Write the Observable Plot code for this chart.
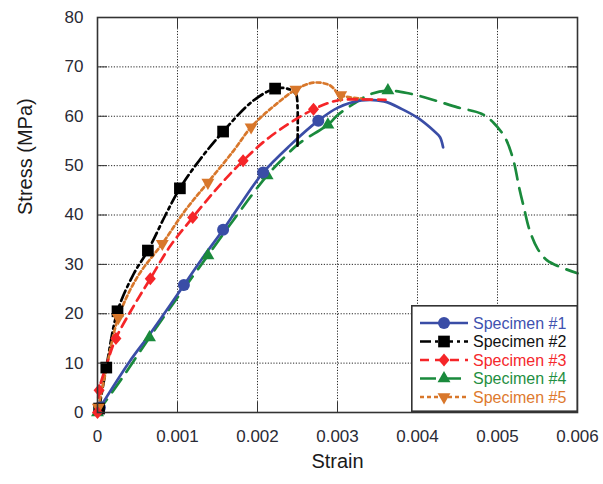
<!DOCTYPE html>
<html>
<head>
<meta charset="utf-8">
<script src="https://cdn.jsdelivr.net/npm/d3@7"></script>
<script src="https://cdn.jsdelivr.net/npm/@observablehq/plot@0.6"></script>
<style>
  html, body { margin: 0; padding: 0; background: #fff; overflow: hidden; }
  #wrap { position: relative; width: 603px; height: 484px; }
  #legend { position: absolute; left: 411px; top: 305px; }
</style>
</head>
<body>
<div id="wrap"><div id="chart"></div><div id="legend"></div></div>
<script>
// ---- data ----
const names = ["Specimen #1", "Specimen #2", "Specimen #3", "Specimen #4", "Specimen #5"];
const xTicks = [0, 0.001, 0.002, 0.003, 0.004, 0.005, 0.006];
const yTicks = [0, 10, 20, 30, 40, 50, 60, 70, 80];

const s1Strain = [0.00003, 0.0004, 0.00066, 0.00108, 0.0013, 0.00157, 0.0018, 0.00207, 0.0024, 0.00276, 0.003, 0.0033, 0.00358, 0.0038, 0.004, 0.0042, 0.00428, 0.00432];
const s1Stress = [1, 10.3, 16, 25.8, 31, 37, 42.5, 48.6, 54, 59.1, 61.7, 63.2, 63, 61.5, 59.7, 57.1, 55.8, 53.7];
const s1Marks = [0, 3, 5, 7, 9];

const s2Strain = [0.00002, 0.00011, 0.00025, 0.00045, 0.00063, 0.00085, 0.00103, 0.00127, 0.00157, 0.00195, 0.00222, 0.00237, 0.00248, 0.0025, 0.0025];
const s2Stress = [0.8, 9.1, 20.5, 28, 32.8, 40, 45.4, 51, 56.9, 63.2, 65.6, 65.6, 64.5, 62, 54];
const s2Marks = [0, 1, 2, 4, 6, 8, 10];

const s3Strain = [0, 0.00002, 0.00012, 0.00023, 0.00045, 0.00066, 0.0009, 0.00119, 0.0015, 0.00182, 0.00217, 0.0027, 0.003, 0.0033, 0.0036];
const s3Stress = [0, 4.5, 10, 15, 21.5, 27.1, 33.5, 39.5, 45.5, 51, 56, 61.4, 63.2, 63.4, 63.3];
const s3Marks = [0, 1, 3, 5, 7, 9, 11];

const s4Strain = [0, 0.0003, 0.00065, 0.001, 0.00138, 0.0017, 0.00212, 0.00233, 0.00252, 0.00288, 0.003, 0.0032, 0.0034, 0.00363, 0.0039, 0.0042, 0.0045, 0.0048, 0.00495, 0.0051, 0.0052, 0.00527, 0.00533, 0.0054, 0.0055, 0.00562, 0.00578, 0.006];
const s4Stress = [0, 6.8, 15.2, 23.3, 31.8, 39, 48, 51.6, 54.5, 58.3, 60.2, 62.5, 64.4, 65.2, 64.6, 63.3, 61.8, 60.5, 58.7, 55.5, 51, 45.6, 41.5, 37, 33.2, 30.8, 29.5, 28.2];
const s4Marks = [0, 2, 4, 6, 9, 13];

const s5Strain = [0.00001, 0.0001, 0.00026, 0.0005, 0.00081, 0.0011, 0.00138, 0.0017, 0.00192, 0.0022, 0.00248, 0.0027, 0.0029, 0.00304, 0.0033];
const s5Stress = [1, 8, 19.2, 27.5, 34.2, 41, 46.6, 53, 57.8, 62, 65.4, 66.8, 66.3, 64.3, 63.6];
const s5Marks = [0, 2, 4, 6, 8, 10, 13];

// ---- symbols ----
const triangleDown = {
  draw(context, size) {
    const y = -Math.sqrt(size / (Math.sqrt(3) * 3));
    context.moveTo(0, -y * 2);
    context.lineTo(-Math.sqrt(3) * y, y);
    context.lineTo(Math.sqrt(3) * y, y);
    context.closePath();
  }
};
const diamondWide = {
  draw(context, size) {
    const h = Math.sqrt(size / 2) * 1.08, w = Math.sqrt(size / 2) * 0.92;
    context.moveTo(0, -h);
    context.lineTo(w, 0);
    context.lineTo(0, h);
    context.lineTo(-w, 0);
    context.closePath();
  }
};

const series = [
  {name: names[0], strain: s1Strain, stress: s1Stress, marks: s1Marks, color: "#3a4da6", text: "#3f52b0", dash: null, symbol: d3.symbolCircle, r: 6},
  {name: names[1], strain: s2Strain, stress: s2Stress, marks: s2Marks, color: "#000000", text: "#111111", dash: "11,4,3,4", symbol: d3.symbolSquare, r: 6.6},
  {name: names[2], strain: s3Strain, stress: s3Stress, marks: s3Marks, color: "#f52528", text: "#f5282c", dash: "9,6", symbol: diamondWide, r: 4.8},
  {name: names[3], strain: s4Strain, stress: s4Stress, marks: s4Marks, color: "#1a8a3c", text: "#1f8f42", dash: "16,9", symbol: d3.symbolTriangle, r: 4.8},
  {name: names[4], strain: s5Strain, stress: s5Stress, marks: s5Marks, color: "#d8772b", text: "#de7a2e", dash: "4,3", symbol: triangleDown, r: 4.8}
];

const toRows = s => s.strain.map((x, i) => ({x, y: s.stress[i]}));
const drawOrder = [3, 0, 1, 4, 2];

const fmt = d => d === 0 ? "0" : d.toFixed(3);
const font = "Arial, 'Liberation Sans', Helvetica, sans-serif";

const marks = [
  Plot.gridX(xTicks, {stroke: "#111", strokeOpacity: 0.9, strokeWidth: 1, strokeDasharray: "1.2,1.6"}),
  Plot.gridY(yTicks, {stroke: "#111", strokeOpacity: 0.9, strokeWidth: 1, strokeDasharray: "1.2,1.6"})
];
for (const i of drawOrder) {
  const s = series[i];
  marks.push(Plot.line(toRows(s), {x: "x", y: "y", stroke: s.color, strokeWidth: 2.7, strokeDasharray: s.dash, curve: "catmull-rom"}));
}
for (const i of drawOrder) {
  const s = series[i];
  const rows = toRows(s).filter((d, k) => s.marks.includes(k));
  marks.push(Plot.dot(rows, {x: "x", y: "y", fill: s.color, stroke: "none", symbol: s.symbol, r: s.r}));
}
marks.push(
  Plot.axisX(xTicks, {anchor: "bottom", tickSize: -10, tickFormat: () => "", stroke: "#333", label: null}),
  Plot.axisX(xTicks, {anchor: "top", tickSize: -10, tickFormat: () => "", stroke: "#333", label: null}),
  Plot.axisY(yTicks, {anchor: "left", tickSize: -10, tickFormat: () => "", stroke: "#333", label: null}),
  Plot.axisY(yTicks, {anchor: "right", tickSize: -10, tickFormat: () => "", stroke: "#333", label: null}),
  Plot.axisX(xTicks, {anchor: "bottom", tickSize: 0, tickPadding: 17, tickFormat: fmt, fontSize: 17, fill: "#2a2a35", label: null}),
  Plot.axisY(yTicks, {anchor: "left", tickSize: 0, tickPadding: 14, tickFormat: d => String(d), fontSize: 17, fill: "#2a2a35", label: null}),
  Plot.frame({stroke: "#333", strokeWidth: 1.6}),
  Plot.text(["Strain"], {frameAnchor: "bottom", dy: 55, fontSize: 20, fill: "#1a1a1a", fontWeight: 500}),
  Plot.text(["Stress (MPa)"], {frameAnchor: "left", dx: -72, rotate: -90, fontSize: 20, fill: "#1a1a1a", fontWeight: 500})
);

const chart = Plot.plot({
  width: 603,
  height: 484,
  marginLeft: 97,
  marginRight: 26,
  marginTop: 17,
  marginBottom: 72,
  style: {fontFamily: font, background: "#fff", overflow: "visible"},
  x: {domain: [0, 0.006], axis: null},
  y: {domain: [0, 80], axis: null},
  marks
});
document.getElementById("chart").appendChild(chart);

// ---- legend (inside plot area, bottom-right) ----
const lw = 167, lh = 107;
const leg = d3.select("#legend").append("svg")
  .attr("width", lw).attr("height", lh)
  .style("display", "block")
  .style("font-family", font);
leg.append("rect").attr("x", 0.8).attr("y", 0.8).attr("width", lw - 1.6).attr("height", lh - 1.6)
  .attr("fill", "#fff").attr("stroke", "#333").attr("stroke-width", 1.6);
const rowY = d3.scalePoint().domain(names).range([18, 92]);
series.forEach(s => {
  const y = rowY(s.name);
  const g = leg.append("g");
  g.append("line").attr("x1", 9).attr("x2", 57).attr("y1", y).attr("y2", y)
    .attr("stroke", s.color).attr("stroke-width", 2.7).attr("stroke-dasharray", s.dash);
  g.append("path").attr("transform", `translate(33,${y})`)
    .attr("d", d3.symbol(s.symbol, Math.PI * s.r * s.r)())
    .attr("fill", s.color);
  g.append("text").attr("x", 62).attr("y", y).attr("dy", "0.35em")
    .attr("font-size", 16).attr("fill", s.text).text(s.name);
});
</script>
</body>
</html>
